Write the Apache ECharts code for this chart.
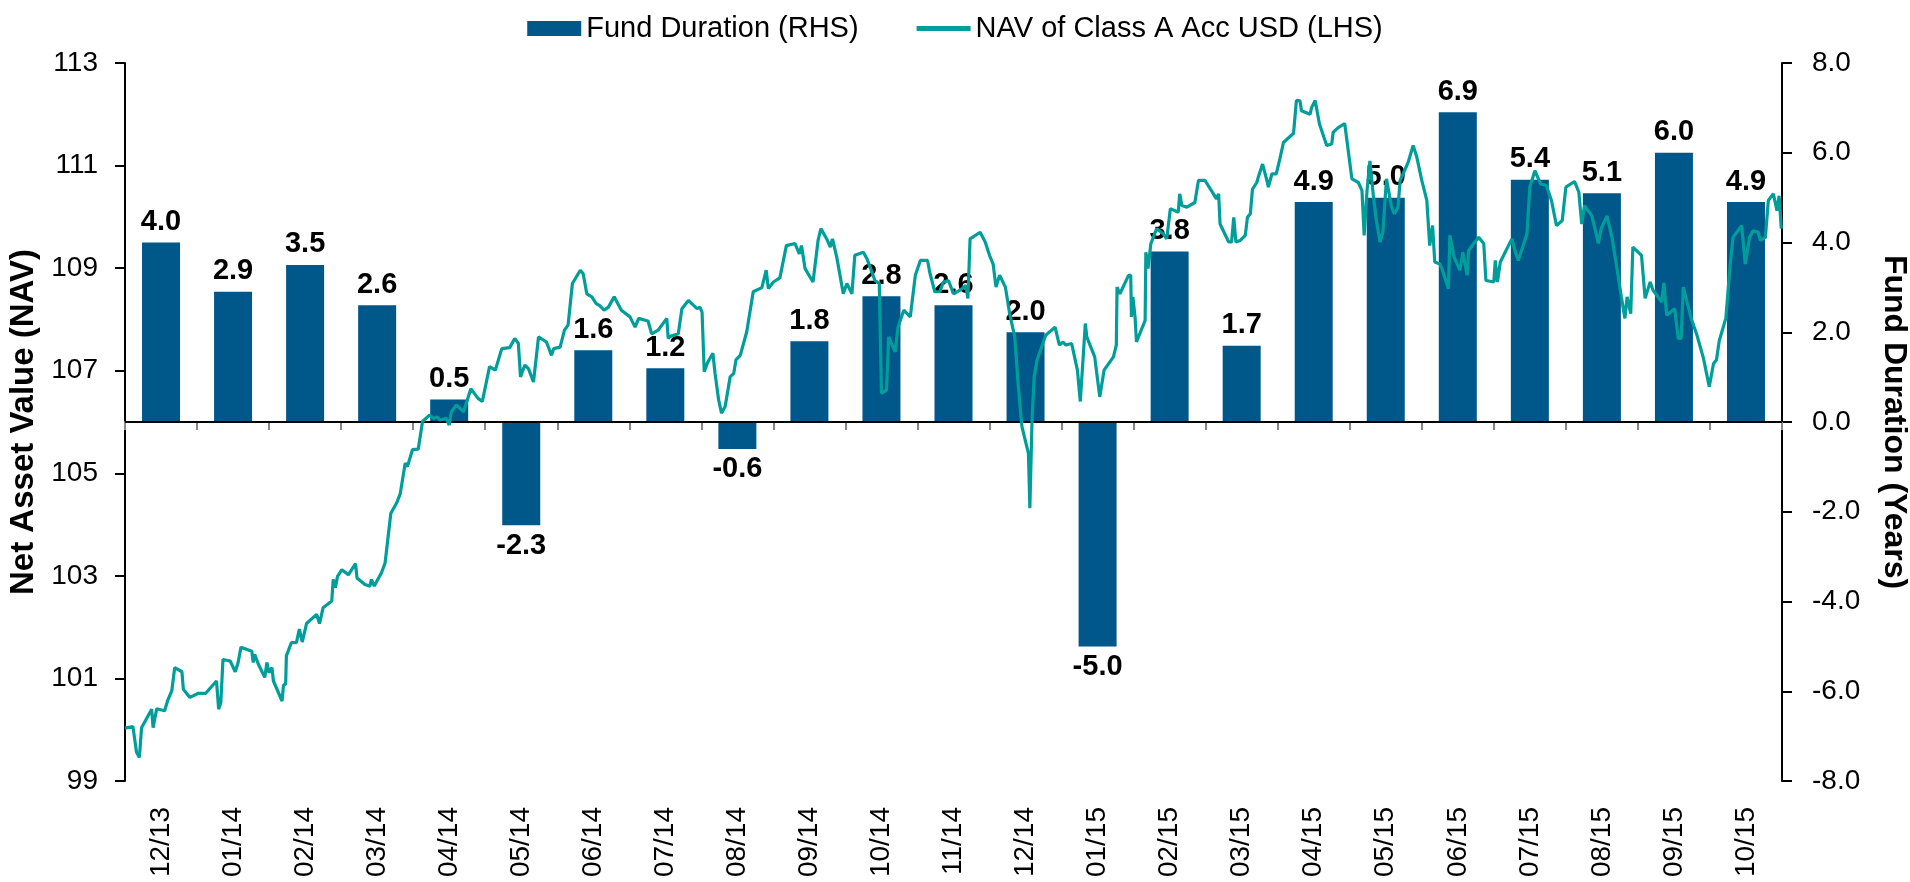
<!DOCTYPE html>
<html>
<head>
<meta charset="utf-8">
<title>Fund Duration vs NAV</title>
<script src="https://cdn.jsdelivr.net/npm/echarts@6/dist/echarts.min.js"></script>
<style>
  html, body { margin: 0; padding: 0; background: #fff; }
  #echart { width: 1910px; height: 882px; }
</style>
</head>
<body>
<div id="echart"></div>
<script>
// month-end categories (bars)
var months = ['12/13', '01/14', '02/14', '03/14', '04/14', '05/14', '06/14', '07/14', '08/14', '09/14', '10/14', '11/14',
  '12/14', '01/15', '02/15', '03/15', '04/15', '05/15', '06/15', '07/15', '08/15', '09/15', '10/15'];

// fund duration in years (RHS)
var duration = [4.0, 2.9, 3.5, 2.6, 0.5, -2.3, 1.6, 1.2, -0.6, 1.8, 2.8, 2.6,
  2.0, -5.0, 3.8, 1.7, 4.9, 5.0, 6.9, 5.4, 5.1, 6.0, 4.9];

// NAV line, position counted in months from the start of 12/13 (LHS)
var navPos = [0.00, 0.11, 0.16, 0.20, 0.23, 0.37, 0.39, 0.44, 0.55, 0.59, 0.65, 0.69, 0.79, 0.81, 0.90, 1.02, 1.12, 1.27, 1.30, 1.33,
  1.36, 1.46, 1.53, 1.57, 1.61, 1.76, 1.78, 1.80, 1.85, 1.94, 1.97, 2.00, 2.04, 2.06, 2.18, 2.20, 2.23, 2.24, 2.31, 2.38,
  2.42, 2.46, 2.52, 2.66, 2.70, 2.75, 2.87, 2.89, 2.92, 2.95, 3.01, 3.10, 3.20, 3.22, 3.33, 3.40, 3.42, 3.46, 3.56, 3.61,
  3.69, 3.77, 3.82, 3.89, 3.92, 3.99, 4.07, 4.13, 4.23, 4.28, 4.33, 4.37, 4.46, 4.50, 4.53, 4.60, 4.70, 4.80, 4.90, 4.96,
  5.06, 5.14, 5.23, 5.34, 5.41, 5.46, 5.49, 5.55, 5.60, 5.67, 5.74, 5.85, 5.92, 5.95, 6.04, 6.10, 6.15, 6.21, 6.32, 6.36,
  6.41, 6.48, 6.54, 6.59, 6.65, 6.71, 6.79, 6.89, 7.01, 7.08, 7.13, 7.26, 7.31, 7.40, 7.52, 7.54, 7.57, 7.68, 7.73, 7.82,
  7.94, 7.98, 8.01, 8.04, 8.09, 8.16, 8.19, 8.24, 8.28, 8.33, 8.40, 8.45, 8.48, 8.54, 8.63, 8.72, 8.84, 8.90, 8.93, 9.00,
  9.09, 9.18, 9.30, 9.36, 9.39, 9.44, 9.55, 9.62, 9.66, 9.74, 9.79, 9.82, 9.88, 9.97, 10.02, 10.09, 10.13, 10.25, 10.30, 10.41,
  10.47, 10.50, 10.57, 10.60, 10.69, 10.73, 10.81, 10.90, 10.97, 11.04, 11.14, 11.17, 11.24, 11.31, 11.36, 11.43, 11.50, 11.59, 11.67, 11.70,
  11.73, 11.87, 11.94, 12.00, 12.05, 12.09, 12.14, 12.22, 12.28, 12.35, 12.40, 12.45, 12.54, 12.56, 12.59, 12.62, 12.66, 12.78, 12.91, 12.97,
  13.02, 13.06, 13.14, 13.22, 13.26, 13.33, 13.35, 13.46, 13.53, 13.59, 13.72, 13.76, 13.77, 13.81, 13.93, 13.96, 13.97, 13.99, 14.02, 14.04,
  14.16, 14.17, 14.20, 14.24, 14.32, 14.41, 14.46, 14.51, 14.62, 14.64, 14.67, 14.74, 14.85, 14.90, 14.99, 15.08, 15.15, 15.18, 15.20, 15.32,
  15.36, 15.39, 15.42, 15.48, 15.55, 15.58, 15.62, 15.65, 15.71, 15.73, 15.79, 15.85, 15.87, 15.92, 15.98, 16.03, 16.08, 16.22, 16.26, 16.31,
  16.33, 16.45, 16.47, 16.52, 16.58, 16.68, 16.75, 16.77, 16.84, 16.93, 17.03, 17.12, 17.17, 17.20, 17.24, 17.28, 17.33, 17.37, 17.42, 17.46,
  17.51, 17.58, 17.62, 17.67, 17.70, 17.81, 17.88, 17.93, 18.00, 18.07, 18.11, 18.15, 18.18, 18.25, 18.28, 18.37, 18.39, 18.45, 18.53, 18.57,
  18.63, 18.65, 18.72, 18.79, 18.86, 18.89, 19.00, 19.02, 19.05, 19.09, 19.25, 19.30, 19.34, 19.46, 19.50, 19.57, 19.65, 19.73, 19.80, 19.87,
  19.95, 20.00, 20.12, 20.18, 20.22, 20.26, 20.36, 20.40, 20.45, 20.49, 20.57, 20.64, 20.71, 20.77, 20.82, 20.85, 20.90, 20.93, 21.05, 21.10,
  21.17, 21.21, 21.33, 21.36, 21.40, 21.51, 21.56, 21.60, 21.63, 21.74, 21.82, 21.91, 21.99, 22.05, 22.09, 22.13, 22.22, 22.28, 22.32, 22.44,
  22.49, 22.51, 22.55, 22.60, 22.67, 22.70, 22.77, 22.81, 22.88, 22.93, 22.96, 22.99];

var navValue = [100.03, 100.06, 99.56, 99.46, 100.04, 100.40, 100.04, 100.41, 100.37, 100.56, 100.76, 101.21, 101.13, 100.79, 100.63, 100.71, 100.71, 100.95, 100.40, 100.53,
  101.37, 101.34, 101.13, 101.31, 101.61, 101.53, 101.31, 101.47, 101.28, 101.02, 101.31, 101.11, 101.21, 100.95, 100.56, 100.87, 100.89, 101.44, 101.70, 101.70,
  101.96, 101.71, 102.07, 102.25, 102.07, 102.38, 102.51, 102.93, 102.77, 102.99, 103.12, 103.02, 103.24, 102.96, 102.83, 102.80, 102.93, 102.80, 103.06, 103.25,
  104.22, 104.42, 104.60, 105.20, 105.13, 105.46, 105.47, 106.01, 106.14, 106.07, 106.10, 106.04, 106.07, 105.94, 106.20, 106.33, 106.20, 106.65, 106.46, 106.40,
  107.08, 107.01, 107.43, 107.45, 107.63, 107.53, 106.88, 107.11, 107.04, 106.78, 107.66, 107.56, 107.30, 107.43, 107.46, 107.79, 107.89, 108.70, 108.96, 108.89,
  108.50, 108.44, 108.31, 108.27, 108.18, 108.24, 108.44, 108.18, 108.05, 107.85, 108.02, 107.97, 107.72, 107.79, 108.02, 107.63, 107.67, 107.72, 108.21, 108.37,
  108.21, 108.24, 108.14, 106.98, 107.17, 107.34, 106.95, 106.43, 106.17, 106.30, 106.88, 106.95, 107.21, 107.30, 107.76, 108.54, 108.62, 108.96, 108.60, 108.73,
  108.81, 109.44, 109.48, 109.28, 109.44, 108.99, 108.73, 109.54, 109.77, 109.57, 109.41, 109.57, 109.21, 108.50, 108.70, 108.50, 109.25, 109.31, 109.18, 108.76,
  108.70, 106.56, 106.62, 107.66, 107.37, 107.85, 108.18, 108.05, 108.86, 109.15, 109.15, 108.92, 108.54, 108.54, 108.73, 108.76, 108.50, 108.57, 108.66, 108.41,
  109.57, 109.70, 109.51, 109.25, 109.08, 108.63, 108.86, 108.63, 108.11, 107.66, 106.69, 105.91, 105.39, 104.32, 106.04, 106.88, 107.21, 107.69, 107.85, 107.50,
  107.56, 107.50, 107.53, 107.01, 106.40, 107.92, 107.66, 107.27, 106.49, 107.01, 107.27, 107.50, 108.63, 108.50, 108.86, 108.86, 108.05, 108.44, 108.05, 107.56,
  107.98, 109.31, 108.99, 109.48, 109.77, 109.67, 109.57, 110.16, 110.09, 110.45, 110.22, 110.19, 110.28, 110.71, 110.71, 110.51, 110.35, 110.45, 109.86, 109.51,
  109.51, 109.99, 109.51, 109.54, 109.64, 109.99, 110.06, 110.54, 110.67, 110.77, 111.03, 110.71, 110.58, 110.84, 110.84, 111.13, 111.45, 111.63, 112.27, 112.26,
  112.07, 112.00, 112.13, 112.27, 111.81, 111.39, 111.42, 111.65, 111.74, 111.82, 110.74, 110.67, 110.51, 109.64, 110.51, 111.09, 110.38, 109.93, 109.51, 109.70,
  110.74, 110.19, 110.06, 110.19, 110.71, 111.06, 111.39, 111.17, 110.71, 110.32, 109.44, 109.83, 109.12, 109.08, 108.99, 108.60, 109.64, 109.21, 108.96, 109.31,
  108.86, 109.34, 109.48, 109.60, 109.48, 108.76, 108.73, 109.15, 108.73, 109.12, 109.57, 109.31, 109.15, 109.67, 110.58, 110.90, 110.64, 110.61, 110.32, 109.83,
  109.93, 110.58, 110.69, 110.48, 109.86, 110.22, 110.02, 109.80, 109.48, 109.77, 110.02, 109.60, 108.99, 108.44, 108.02, 108.44, 108.11, 109.41, 109.25, 108.41,
  108.73, 108.57, 108.34, 108.71, 108.08, 108.21, 107.63, 107.63, 108.63, 108.02, 107.69, 107.24, 106.69, 107.14, 107.21, 107.59, 108.02, 109.05, 109.60, 109.83,
  109.08, 109.08, 109.60, 109.73, 109.70, 109.54, 109.60, 110.32, 110.45, 110.12, 110.41, 109.77];

var navLine = navPos.map(function (p, i) { return [p, navValue[i]]; });
var durationBars = duration.map(function (v) {
  return { value: v, label: { position: v < 0 ? 'bottom' : 'top' } };
});

var myChart = echarts.init(document.getElementById('echart'));
var font = 'Liberation Sans, Arial, sans-serif';

var option = {
  backgroundColor: '#fff',
  animation: false,
  textStyle: { fontFamily: font, color: '#000' },
  legend: {
    top: 9,
    left: 'center',
    itemWidth: 54,
    itemHeight: 15,
    itemGap: 58,
    textStyle: { fontSize: 29, color: '#000', fontFamily: font },
    data: [
      { name: 'Fund Duration (RHS)', icon: 'rect' },
      { name: 'NAV of Class A Acc USD (LHS)', icon: 'path://M0,0H54V5H0Z' }
    ]
  },
  grid: { left: 125, right: 128, top: 63, bottom: 101, outerBoundsMode: 'none' },
  xAxis: [
    {
      type: 'category',
      data: months,
      boundaryGap: true,
      axisLine: { lineStyle: { color: '#888', width: 2 } },
      axisTick: { show: true, length: 8, lineStyle: { color: '#888', width: 2 } },
      axisLabel: { rotate: 90, interval: 0, fontSize: 28, margin: 26, color: '#000', fontFamily: font }
    },
    {
      type: 'value',
      min: 0,
      max: 23,
      show: false
    }
  ],
  yAxis: [
    {
      type: 'value',
      min: 99,
      max: 113,
      interval: 2,
      position: 'left',
      name: 'Net Asset Value (NAV)',
      nameLocation: 'middle',
      nameRotate: 90,
      nameGap: 65,
      nameTextStyle: { fontSize: 33, fontWeight: 'bold', color: '#000', fontFamily: font },
      axisLine: { show: true, lineStyle: { color: '#000', width: 2 } },
      axisTick: { show: true, length: 10, lineStyle: { color: '#000', width: 2 } },
      axisLabel: { fontSize: 28, margin: 27, color: '#000', fontFamily: font },
      splitLine: { show: false }
    },
    {
      type: 'value',
      min: -8,
      max: 8,
      interval: 2,
      position: 'right',
      name: 'Fund Duration (Years)',
      nameLocation: 'middle',
      nameRotate: -90,
      nameGap: 96,
      nameTextStyle: { fontSize: 32, fontWeight: 'bold', color: '#000', fontFamily: font },
      axisLine: { show: true, lineStyle: { color: '#000', width: 2 } },
      axisTick: { show: true, length: 10, lineStyle: { color: '#000', width: 2 } },
      axisLabel: {
        fontSize: 28, margin: 30, color: '#000', fontFamily: font,
        formatter: function (v) { return v.toFixed(1); }
      },
      splitLine: { show: false }
    }
  ],
  series: [
    {
      name: 'Fund Duration (RHS)',
      type: 'bar',
      xAxisIndex: 0,
      yAxisIndex: 1,
      barWidth: 38,
      itemStyle: { color: '#00578A' },
      label: {
        show: true,
        fontSize: 29,
        fontWeight: 'bold',
        color: '#000',
        fontFamily: font,
        distance: 6,
        formatter: function (p) { return p.value.toFixed(1); }
      },
      data: durationBars,
      markLine: {
        silent: true,
        symbol: 'none',
        label: { show: false },
        lineStyle: { color: '#000', width: 2, type: 'solid' },
        data: [{ yAxis: 0 }]
      },
      z: 2
    },
    {
      name: 'NAV of Class A Acc USD (LHS)',
      type: 'line',
      xAxisIndex: 1,
      yAxisIndex: 0,
      symbol: 'none',
      showSymbol: false,
      itemStyle: { color: '#009E9A' },
      lineStyle: { color: '#009E9A', width: 3.2 },
      data: navLine,
      z: 5
    }
  ]
};

myChart.setOption(option);
window.onresize = function () { myChart.resize(); };
</script>
</body>
</html>
